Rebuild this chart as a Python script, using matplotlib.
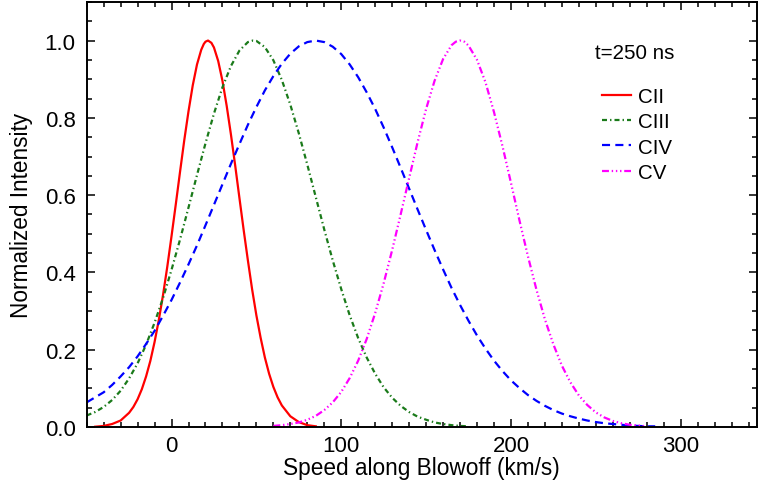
import matplotlib
matplotlib.use("Agg")
import matplotlib.pyplot as plt
from matplotlib.ticker import MultipleLocator, FormatStrFormatter

plt.rcParams["font.family"] = ["Liberation Sans", "DejaVu Sans"]
plt.rcParams["lines.scale_dashes"] = False

# values (normalized line intensity vs. speed)
cii_speed = [-45, -40, -35, -30, -25, -22.5, -20, -17.5, -15, -12.5, -10, -7.5,
             -5, -2.5, 0, 2.5, 5, 7.5, 10, 12.5, 15, 17.5, 19, 20, 21.5, 23.5,
             25, 27.5, 30, 32.5, 35, 37.5, 40, 42.5, 45, 47.5, 50, 52.5, 55,
             57.5, 60, 62.5, 65, 70, 75, 80, 85]
cii_int = [0.001, 0.003, 0.008, 0.017, 0.037, 0.052, 0.072, 0.098, 0.131, 0.171,
           0.220, 0.277, 0.342, 0.415, 0.494, 0.576, 0.660, 0.742, 0.817, 0.884,
           0.938, 0.976, 0.991, 0.997, 1.000, 0.994, 0.982, 0.947, 0.896, 0.831,
           0.757, 0.677, 0.593, 0.510, 0.431, 0.356, 0.289, 0.231, 0.180, 0.138,
           0.104, 0.077, 0.056, 0.028, 0.013, 0.005, 0.002]

ciii_speed = [-50, -45, -40, -35, -30, -25, -20, -15, -10, -5, 0, 5, 10, 15, 20,
              25, 30, 35, 40, 45, 48, 50, 55, 60, 65, 70, 75, 80, 85, 90, 95, 100,
              105, 110, 115, 120, 125, 130, 135, 140, 145, 150, 155, 160, 165,
              170, 175]
ciii_int = [0.030, 0.039, 0.052, 0.070, 0.094, 0.126, 0.165, 0.213, 0.270, 0.334,
            0.407, 0.485, 0.568, 0.652, 0.734, 0.811, 0.879, 0.934, 0.974, 0.996,
            1.000, 0.999, 0.983, 0.949, 0.898, 0.834, 0.760, 0.679, 0.595, 0.511,
            0.431, 0.357, 0.289, 0.230, 0.180, 0.138, 0.103, 0.076, 0.055, 0.039,
            0.027, 0.019, 0.012, 0.008, 0.005, 0.003, 0.002]

civ_speed = [-50, -45, -40, -35, -30, -25, -20, -15, -10, -5, 0, 5, 10, 15, 20,
             25, 30, 35, 40, 45, 50, 55, 60, 65, 70, 75, 80, 85, 90, 95, 100, 105,
             110, 115, 120, 125, 130, 135, 140, 145, 150, 155, 160, 165, 170, 175,
             180, 185, 190, 195, 200, 205, 210, 215, 220, 225, 230, 235, 240, 245,
             250, 255, 260, 265, 270, 275, 280, 285]
civ_int = [0.064, 0.077, 0.090, 0.109, 0.131, 0.155, 0.183, 0.215, 0.249, 0.288,
           0.329, 0.374, 0.421, 0.470, 0.522, 0.575, 0.628, 0.681, 0.732, 0.782,
           0.828, 0.871, 0.908, 0.940, 0.966, 0.985, 0.996, 1.000, 0.996, 0.984,
           0.965, 0.938, 0.905, 0.866, 0.823, 0.775, 0.724, 0.671, 0.617, 0.563,
           0.510, 0.458, 0.408, 0.360, 0.316, 0.275, 0.237, 0.203, 0.172, 0.145,
           0.121, 0.101, 0.083, 0.068, 0.055, 0.044, 0.035, 0.028, 0.022, 0.017,
           0.013, 0.010, 0.008, 0.006, 0.004, 0.003, 0.002, 0.002]

cv_speed = [60, 65, 70, 75, 80, 85, 90, 95, 100, 105, 110, 115, 120, 125, 130,
            135, 140, 145, 150, 155, 160, 165, 167.5, 170, 172.5, 175, 180, 185,
            190, 195, 200, 205, 210, 215, 220, 225, 230, 235, 240, 245, 250, 255,
            260, 265, 270, 275, 280]
cv_int = [0.003, 0.005, 0.008, 0.012, 0.019, 0.029, 0.044, 0.064, 0.091, 0.127,
          0.172, 0.228, 0.295, 0.372, 0.458, 0.550, 0.644, 0.737, 0.823, 0.896,
          0.952, 0.988, 0.997, 1.000, 0.997, 0.987, 0.950, 0.892, 0.815, 0.727,
          0.632, 0.535, 0.442, 0.356, 0.279, 0.214, 0.159, 0.116, 0.082, 0.057,
          0.038, 0.025, 0.016, 0.010, 0.006, 0.004, 0.002]

fig = plt.figure(figsize=(7.59, 4.81), dpi=100)
ax = fig.add_axes([0.1142, 0.110, 0.8832, 0.884])

lw = 1.6
ax.plot(cii_speed, cii_int, color="red", lw=lw, ls="-", label="CII")
ax.plot(ciii_speed, ciii_int, color="#1a7a1a", lw=lw,
        ls=(0, (3.6, 2.2, 1.0, 2.2)), label="CIII")
ax.plot(civ_speed, civ_int, color="blue", lw=lw,
        ls=(0, (5.8, 3.8)), label="CIV")
ax.plot(cv_speed, cv_int, color="magenta", lw=lw,
        ls=(0, (5.0, 2.0, 1.0, 2.0, 1.0, 2.0, 1.0, 2.0)), label="CV")

ax.set_xlim(-50, 345)
ax.set_ylim(0, 1.1)
ax.xaxis.set_major_locator(MultipleLocator(100))
ax.xaxis.set_minor_locator(MultipleLocator(10))
ax.yaxis.set_major_locator(MultipleLocator(0.2))
ax.yaxis.set_minor_locator(MultipleLocator(0.05))
ax.yaxis.set_major_formatter(FormatStrFormatter("%.1f"))
ax.tick_params(which="both", direction="in", top=True, right=True,
               labelsize=16, width=1.1)
ax.tick_params(which="major", length=6)
ax.tick_params(which="minor", length=3.3)
ax.tick_params(axis="y", pad=8)
ax.tick_params(axis="x", pad=6)
for s in ax.spines.values():
    s.set_linewidth(1.4)

ax.set_xlabel("Speed along Blowoff (km/s)", fontsize=16.3, labelpad=0)
ax.set_ylabel("Normalized Intensity", fontsize=16.3, labelpad=8)

ax.text(0.758, 0.882, "t=250 ns", transform=ax.transAxes, fontsize=14.8,
        va="center", ha="left")
ax.legend(loc="upper left", bbox_to_anchor=(0.769, 0.80), frameon=False,
          fontsize=14.8, handlelength=1.41, handletextpad=0.34,
          labelspacing=0.31, borderpad=0, borderaxespad=0)

fig.savefig("out.png", dpi=100)
